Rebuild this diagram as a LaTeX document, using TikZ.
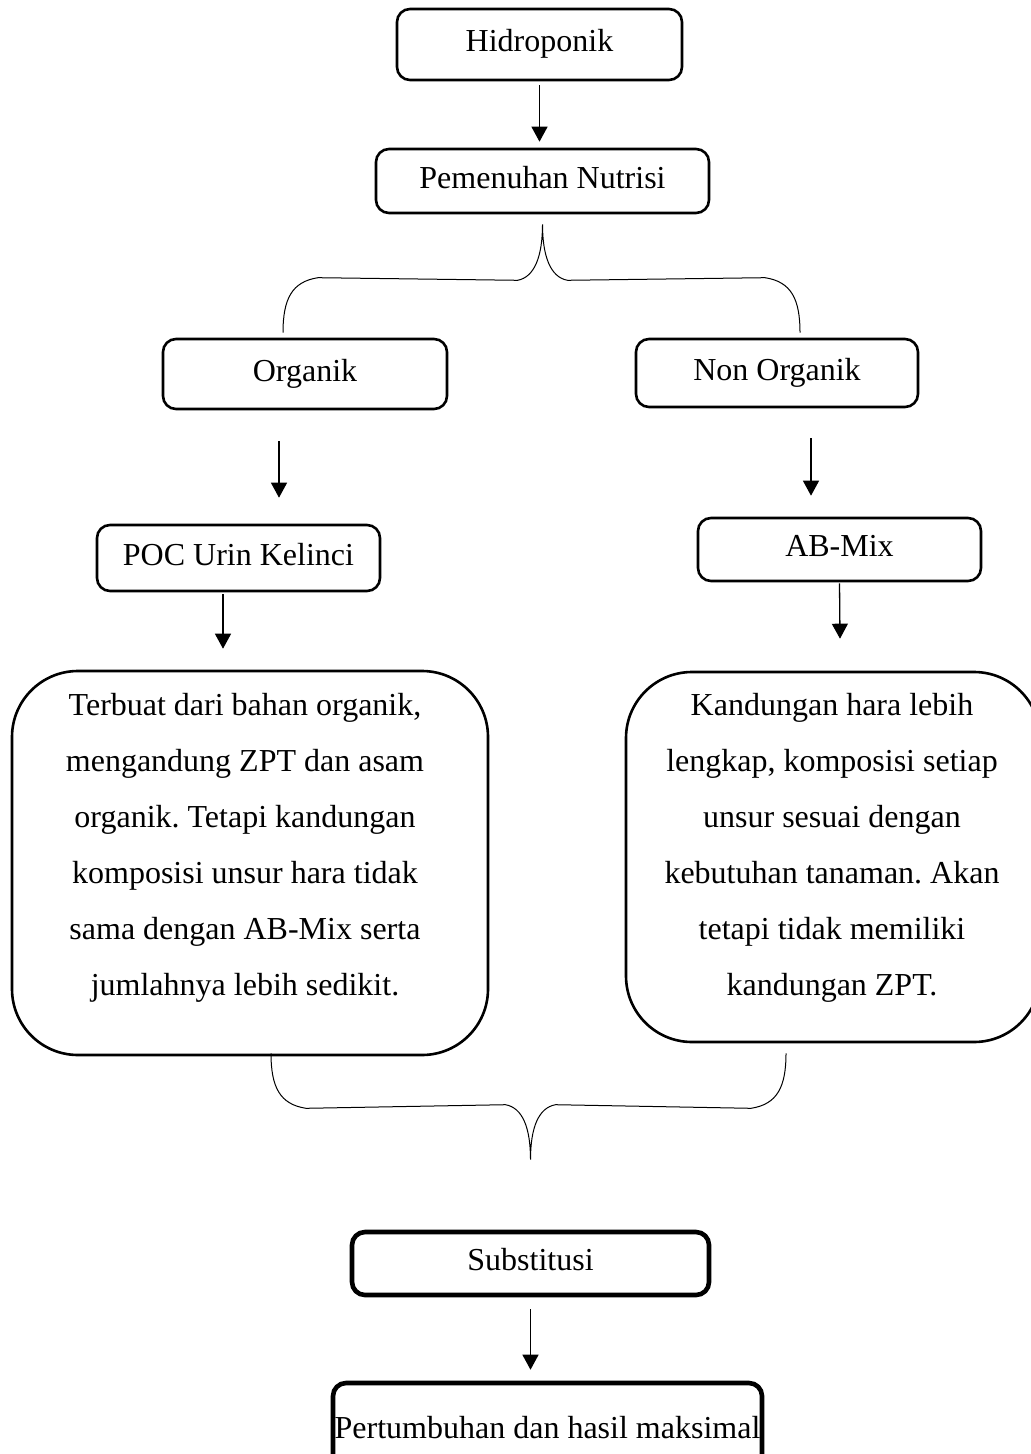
\documentclass[tikz,border=0pt]{standalone}
\usepackage{fontspec}
\setmainfont{Liberation Serif}
\frenchspacing
\usetikzlibrary{calc,arrows.meta}
\tikzset{>={Triangle[width=8pt,length=7.5pt]}}
\tikzset{
  kotak/.style={draw, line width=1.3pt, rounded corners=6.5pt, inner sep=0pt,
    font=\fontsize{16}{28}\selectfont, text height=11.2pt, text depth=4pt},
  kotakbesar/.style={draw, line width=1.3pt, rounded corners=33pt, inner sep=0pt},
  isi/.style={align=center, font=\fontsize{16}{28}\selectfont},
  kurung/.style={line width=0.5pt},
  panah/.style={->, line width=0.65pt}
}

\begin{document}
\begin{tikzpicture}[x=0.5pt,y=-0.5pt]
\useasboundingbox (0,0) rectangle (1031,1454);
\clip (0,0) rectangle (1031,1454);
% kotak atas
\node[kotak, minimum width=142.5pt, minimum height=35.5pt] (hidro) at (539.5,44.5) {Hidroponik};
\node[kotak, minimum width=166.5pt, minimum height=32pt] (nutrisi) at (542.5,181) {Pemenuhan Nutrisi};
\node[kotak, minimum width=142pt, minimum height=35pt] (organik) at (305,374) {Organik};
\node[kotak, minimum width=141pt, minimum height=34pt] (nonorg) at (777,373) {Non Organik};
\node[kotak, minimum width=141.5pt, minimum height=33pt] (poc) at (238.5,558) {POC Urin Kelinci};
\node[kotak, minimum width=141.5pt, minimum height=31.5pt] (abmix) at (839.5,549.5) {AB-Mix};
% kotak keterangan
\node[kotakbesar, minimum width=238pt, minimum height=192pt] (kiri) at (250,863) {};
\node[isi] (kiritxt) at (245,847.5) {Terbuat dari bahan organik,\\ mengandung ZPT dan asam\\ organik. Tetapi kandungan\\ komposisi unsur hara tidak\\ sama dengan AB-Mix serta\\ jumlahnya lebih sedikit.};
\node[kotakbesar, minimum width=207pt, minimum height=185pt] (kanan) at (833,857) {};
\node[isi] (kanantxt) at (832,848) {Kandungan hara lebih\\ lengkap, komposisi setiap\\ unsur sesuai dengan\\ kebutuhan tanaman. Akan\\ tetapi tidak memiliki\\ kandungan ZPT.};
% kotak bawah
\node[kotak, line width=2.3pt, minimum width=178.5pt, minimum height=31.5pt] (subst) at (530.5,1263.5) {Substitusi};
\node[kotak, line width=2.3pt, minimum width=214.5pt, minimum height=48.5pt] (hasil) at (547.5,1431.5) {Pertumbuhan dan hasil maksimal};
% panah
\draw[panah, shorten <=2pt, shorten >=3pt] (hidro.south) -- (hidro.south |- nutrisi.north);
\draw[panah] ([xshift=-13pt,yshift=-15.5pt]organik.south) -- ([xshift=20.25pt,yshift=13pt]poc.north);
\draw[panah] ([xshift=17pt,yshift=-15pt]nonorg.south) -- ([xshift=-14.25pt,yshift=10.5pt]abmix.north);
\draw[panah] ([xshift=-7.75pt,yshift=-1pt]poc.south) -- ([xshift=-13.5pt,yshift=10.5pt]kiri.north);
\draw[panah] ([yshift=-0.5pt]abmix.south) -- ([xshift=3.5pt,yshift=16pt]kanan.north);
\draw[panah, shorten <=6pt, shorten >=5.5pt] (subst.south) -- (subst.south |- hasil.north);
% kurung kurawal atas
\coordinate (kt) at ([yshift=-5pt]nutrisi.south);
\coordinate (ka) at ([xshift=-11pt,yshift=2.5pt]organik.north);
\coordinate (kb) at ([xshift=11.5pt,yshift=2.5pt]nonorg.north);
\draw[kurung] (ka) .. controls +(0,-34) and +(-26,4) .. ($(ka)+(35,-55)$)
  -- ($(kt)+(-25,56)$) .. controls +(17,-3) and +(0,32) .. (kt)
  .. controls +(0,32) and +(-17,-3) .. ($(kt)+(25,56)$)
  -- ($(kb)+(-35,-55)$) .. controls +(26,4) and +(0,-34) .. (kb);
% kurung kurawal bawah
\coordinate (lt) at ([yshift=35pt]subst.north);
\coordinate (la) at ([xshift=10.5pt,yshift=1.5pt]kiri.south);
\coordinate (lb) at ([xshift=-23.5pt,yshift=-5pt]kanan.south);
\draw[kurung] (la) .. controls +(0,34) and +(-26,-4) .. ($(la)+(35,55)$)
  -- ($(lt)+(-25,-55)$) .. controls +(17,3) and +(0,-32) .. (lt)
  .. controls +(0,-32) and +(-17,3) .. ($(lt)+(25,-55)$)
  -- ($(lb)+(-35,55)$) .. controls +(26,-4) and +(0,34) .. (lb);
\end{tikzpicture}
\end{document}
